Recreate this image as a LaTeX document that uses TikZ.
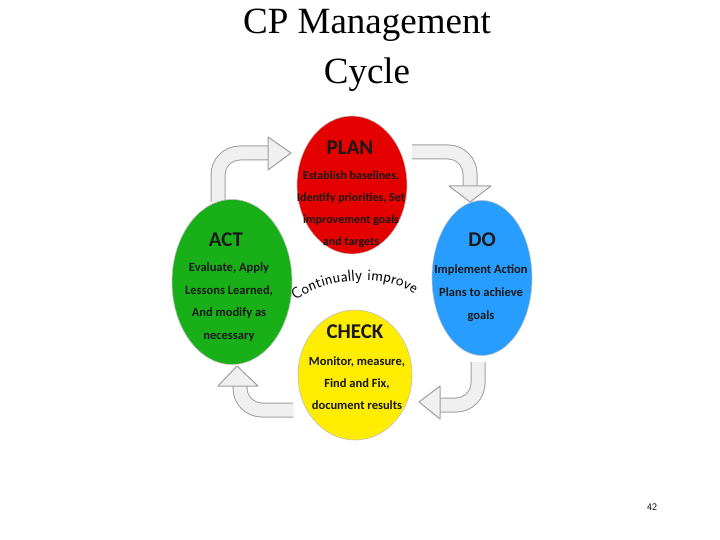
\documentclass[tikz,border=0pt]{standalone}
\usepackage{fontspec}
\setmainfont{Liberation Serif}
\newfontfamily\carl{Carlito}
\usetikzlibrary{shapes.geometric,decorations.text}
\begin{document}
\begin{tikzpicture}[x=1pt,y=-1pt,
  phase/.style={ellipse,draw=black!25,line width=0.6pt,inner sep=0pt},
  ttl/.style={font=\carl\bfseries\fontsize{21}{22}\selectfont,text=black!90},
  body/.style={align=center,text=black!90},
  band/.style={draw=gray!75,double=gray!12,double distance=13pt,line width=1pt,rounded corners=22pt},
  head/.style={draw=gray!75,fill=gray!12,line width=1pt,line join=round}]
\useasboundingbox (0,0) rectangle (720,540);
\node[font=\fontsize{37}{50}\selectfont,align=center] (title) at (367,50) {CP Management\\Cycle};
% arrows
\draw[band] (218,202) -- (218,153) -- (270,153);
\draw[head] (268,137) -- (291,153) -- (268,170) -- cycle;
\draw[band] (412,152) -- (470,152) -- (470,186);
\draw[head] (449,186) -- (470,202) -- (491,186) -- cycle;
\draw[band] (478,362) -- (478,405) -- (438,405);
\draw[head] (440,386) -- (419,402) -- (440,419) -- cycle;
\draw[band] (293,410) -- (240,410) -- (240,385);
\draw[head] (218,386) -- (237,366) -- (258,386) -- cycle;
% circles
\node[phase,fill=red!90!black,minimum width=110pt,minimum height=138pt] (plan) at (352,185) {};
\node[phase,fill=blue!45!cyan!85!white,minimum width=100pt,minimum height=155pt] (do) at (482,278) {};
\node[phase,fill=green!65!black!90,minimum width=120pt,minimum height=165pt] (act) at (232,282) {};
\node[phase,fill=yellow!95!orange,minimum width=114pt,minimum height=130pt] (check) at (355,375) {};
\node[ttl] (planT) at (350,148) {PLAN};
\node[body,font=\carl\bfseries\fontsize{12}{22}\selectfont] (planB) at (351,209) {Establish baselines,\\Identify priorities, Set\\improvement goals\\and targets};
\node[ttl] (doT) at (482,240) {DO};
\node[body,font=\carl\bfseries\fontsize{12.5}{23}\selectfont] (doB) at (481,293) {Implement Action\\Plans to achieve\\goals};
\node[ttl] (actT) at (226,240) {ACT};
\node[body,font=\carl\bfseries\fontsize{12.5}{22.5}\selectfont] (actB) at (229,302) {Evaluate, Apply\\Lessons Learned,\\And modify as\\necessary};
\node[ttl] (checkT) at (355,332) {CHECK};
\node[body,font=\carl\bfseries\fontsize{12.5}{22}\selectfont] (checkB) at (357,383) {Monitor, measure,\\Find and Fix,\\document results};
\path[decorate,decoration={text along path,text align=center,text={|\sffamily\fontsize{16}{16}\selectfont|Continually improve}}]
  (290,305) .. controls (318,278) and (388,270) .. (420,298);
\node[font=\sffamily\fontsize{10}{10}\selectfont] (num) at (652,507) {42};
\end{tikzpicture}
\end{document}
